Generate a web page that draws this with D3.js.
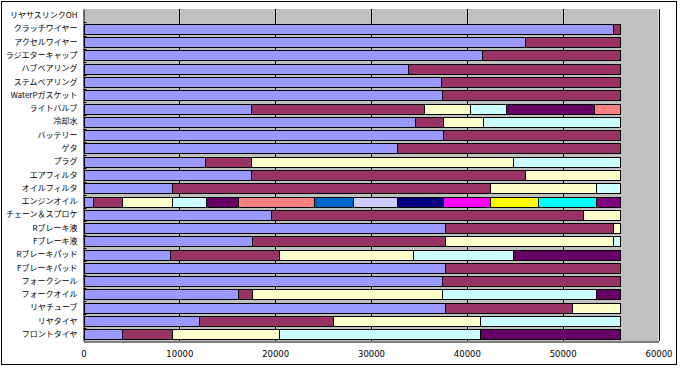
<!DOCTYPE html>
<html>
<head>
<meta charset="utf-8">
<script src="https://cdn.jsdelivr.net/npm/d3@7"></script>
<style>
  body { margin: 0; background: #fff; }
  svg { display: block; }
</style>
</head>
<body>
<div id="chart"></div>
<script>
// categories, top to bottom
var parts = ["リヤサスリンクOH", "クラッチワイヤー", "アクセルワイヤー", "ラジエターキャップ",
    "ハブベアリング", "ステムベアリング", "WaterPガスケット", "ライトバルブ", "冷却水",
    "バッテリー", "ゲタ", "プラグ", "エアフィルタ", "オイルフィルタ", "エンジンオイル",
    "チェーン＆スプロケ", "Rブレーキ液", "Fブレーキ液", "Rブレーキパッド", "Fブレーキパッド",
    "フォークシール", "フォークオイル", "リヤチューブ", "リヤタイヤ", "フロントタイヤ"];

// distance (km) between replacements, one array per interval
var s1  = [0, 55200, 46100, 41600, 33850, 37300, 37450, 17520, 34540, 37500, 32760, 12720, 17520, 9200, 960, 19580, 37700, 17630, 8990, 37700, 37360, 16140, 37700, 12040, 3980];
var s2  = [0, 770, 9870, 14370, 22120, 18670, 18520, 17980, 2960, 18470, 23210, 4800, 28590, 33200, 3060, 32580, 17570, 20070, 11460, 18270, 18610, 1490, 13270, 13950, 5260];
var s3  = [0, 0, 0, 0, 0, 0, 0, 4880, 4180, 0, 0, 27300, 9860, 11040, 5220, 3810, 700, 17570, 13890, 0, 0, 19730, 5000, 15350, 11170];
var s4  = [0, 0, 0, 0, 0, 0, 0, 3710, 14290, 0, 0, 11150, 0, 2530, 3560, 0, 0, 700, 10470, 0, 0, 16090, 0, 14630, 20930];
var s5  = [0, 0, 0, 0, 0, 0, 0, 9200, 0, 0, 0, 0, 0, 0, 3340, 0, 0, 0, 11160, 0, 0, 2520, 0, 0, 14630];
var s6  = [0, 0, 0, 0, 0, 0, 0, 2680, 0, 0, 0, 0, 0, 0, 7950, 0, 0, 0, 0, 0, 0, 0, 0, 0, 0];
var s7  = [0, 0, 0, 0, 0, 0, 0, 0, 0, 0, 0, 0, 0, 0, 4000, 0, 0, 0, 0, 0, 0, 0, 0, 0, 0];
var s8  = [0, 0, 0, 0, 0, 0, 0, 0, 0, 0, 0, 0, 0, 0, 4640, 0, 0, 0, 0, 0, 0, 0, 0, 0, 0];
var s9  = [0, 0, 0, 0, 0, 0, 0, 0, 0, 0, 0, 0, 0, 0, 4760, 0, 0, 0, 0, 0, 0, 0, 0, 0, 0];
var s10 = [0, 0, 0, 0, 0, 0, 0, 0, 0, 0, 0, 0, 0, 0, 4920, 0, 0, 0, 0, 0, 0, 0, 0, 0, 0];
var s11 = [0, 0, 0, 0, 0, 0, 0, 0, 0, 0, 0, 0, 0, 0, 5050, 0, 0, 0, 0, 0, 0, 0, 0, 0, 0];
var s12 = [0, 0, 0, 0, 0, 0, 0, 0, 0, 0, 0, 0, 0, 0, 5990, 0, 0, 0, 0, 0, 0, 0, 0, 0, 0];
var s13 = [0, 0, 0, 0, 0, 0, 0, 0, 0, 0, 0, 0, 0, 0, 2520, 0, 0, 0, 0, 0, 0, 0, 0, 0, 0];

var xTicks = [0, 10000, 20000, 30000, 40000, 50000, 60000];

var series = [s1, s2, s3, s4, s5, s6, s7, s8, s9, s10, s11, s12, s13];
var colors = ["#9999FF", "#993366", "#FFFFCC", "#CCFFFF", "#660066", "#FF8080", "#0066CC",
    "#CCCCFF", "#000080", "#FF00FF", "#FFFF00", "#00FFFF", "#800080"];

var svgWidth = 680, svgHeight = 370;
var plot = { left: 83.5, right: 658.5, top: 9, bottom: 341 };

var svg = d3.select("#chart").append("svg")
    .attr("width", svgWidth)
    .attr("height", svgHeight);

// chart area border
svg.append("rect")
    .attr("x", 1.5).attr("y", 1.5)
    .attr("width", 675).attr("height", 363)
    .attr("fill", "#fff")
    .attr("stroke", "#000");

// plot area
svg.append("rect")
    .attr("x", plot.left).attr("y", plot.top)
    .attr("width", plot.right - plot.left).attr("height", plot.bottom - plot.top)
    .attr("fill", "#C0C0C0");

var x = d3.scaleLinear().domain([0, 60000]).range([plot.left, plot.right]);
var y = d3.scaleBand().domain(parts).range([plot.top, plot.bottom])
    .paddingInner(0.24).paddingOuter(0.12);

// table for the stack
var keys = series.map(function(s, i) { return "s" + (i + 1); });
var table = parts.map(function(p, j) {
    var row = { part: p };
    series.forEach(function(s, i) { row[keys[i]] = s[j]; });
    return row;
});
var stacked = d3.stack().keys(keys)(table);

// gridlines
svg.append("g").selectAll("line")
    .data(xTicks.slice(1))
    .enter().append("line")
    .attr("x1", d => Math.round(x(d)) + 0.5)
    .attr("x2", d => Math.round(x(d)) + 0.5)
    .attr("y1", plot.top)
    .attr("y2", plot.bottom)
    .attr("stroke", "#000");

// bars
var layers = svg.append("g").selectAll("g")
    .data(stacked)
    .enter().append("g")
    .attr("fill", (d, i) => colors[i]);

layers.selectAll("rect")
    .data(d => d.filter(v => v[1] - v[0] > 0))
    .enter().append("rect")
    .attr("x", d => Math.round(x(d[0])) + 0.5)
    .attr("y", d => Math.round(y(d.data.part)) + 0.5)
    .attr("width", d => Math.round(x(d[1])) - Math.round(x(d[0])))
    .attr("height", Math.round(y.bandwidth()))
    .attr("stroke", "#000")
    .attr("stroke-width", 1);

// axes
var bottomAxis = d3.axisBottom(x).tickValues(xTicks).tickSize(0).tickPadding(9)
    .tickFormat(d3.format("d"));
var gx = svg.append("g")
    .attr("transform", `translate(0, ${plot.bottom + 0.5})`)
    .call(bottomAxis);
gx.select(".domain").attr("stroke", "#000");
gx.selectAll("text")
    .attr("font-family", "'DejaVu Sans', sans-serif")
    .attr("font-size", "8.5px")
    .attr("fill", "#000");

var leftAxis = d3.axisLeft(y).tickSize(0).tickPadding(6);
var gy = svg.append("g")
    .attr("transform", `translate(${plot.left}, 0)`)
    .call(leftAxis);
gy.select(".domain").attr("stroke", "#000");
gy.selectAll("text")
    .attr("font-family", "'Noto Sans CJK JP', sans-serif")
    .attr("font-size", "8px")
    .attr("fill", "#000");

// small category ticks, pointing into the plot
var step = y.step();
var tickYs = parts.slice(1).map((p, i) => y(p) - y.paddingInner() * step / 2);
svg.append("g").selectAll("line")
    .data(tickYs)
    .enter().append("line")
    .attr("x1", plot.left)
    .attr("x2", plot.left + 3)
    .attr("y1", d => Math.round(d) + 0.5)
    .attr("y2", d => Math.round(d) + 0.5)
    .attr("stroke", "#000");
</script>
</body>
</html>
